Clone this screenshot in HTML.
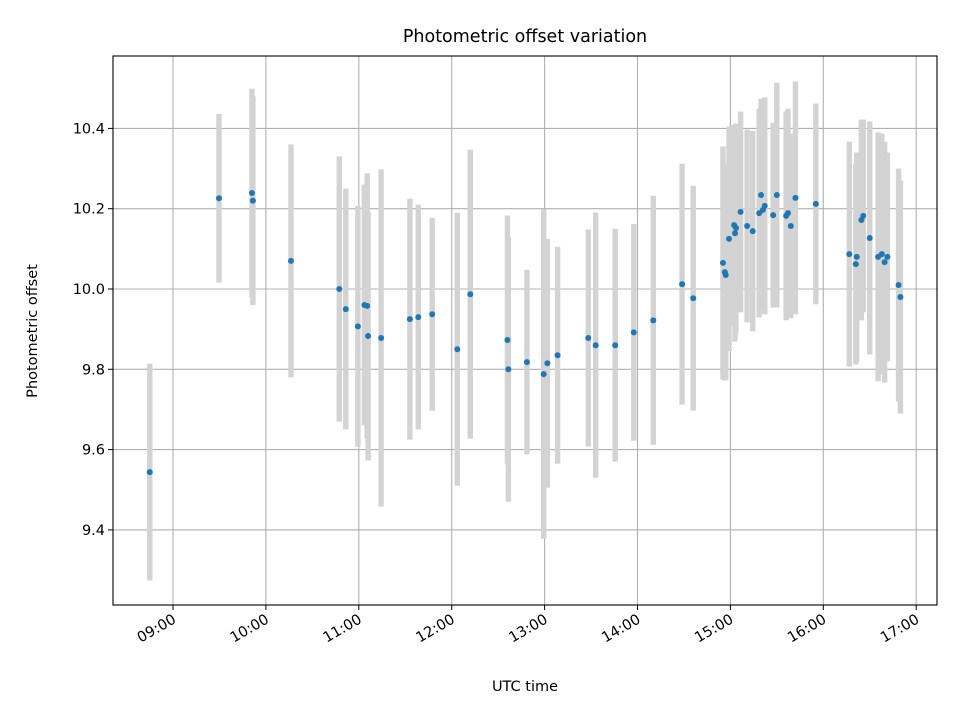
<!DOCTYPE html>
<html><head><meta charset="utf-8"><style>
body{margin:0;background:#fff;font-family:"Liberation Sans","DejaVu Sans",sans-serif}
</style></head><body>
<svg id="chart" width="960" height="720" xmlns="http://www.w3.org/2000/svg" font-family="DejaVu Sans, Liberation Sans, sans-serif"></svg>
<script>
const times=[8.75,9.495,9.85,9.86,10.27,10.79,10.86,10.99,11.06,11.09,11.10,11.24,11.55,11.64,11.79,12.06,12.20,12.60,12.61,12.81,12.99,13.03,13.14,13.47,13.55,13.76,13.96,14.17,14.48,14.60,
14.92,14.94,14.95,14.985,15.04,15.06,15.05,15.11,15.18,15.24,15.33,15.31,15.35,15.37,15.46,15.50,15.60,15.62,15.65,15.70,15.92,
16.28,16.36,16.35,16.41,16.43,16.50,16.59,16.63,16.66,16.69,16.81,16.83];
const offsets=[9.544,10.226,10.239,10.22,10.07,10.0,9.95,9.907,9.96,9.958,9.883,9.878,9.925,9.93,9.937,9.85,9.987,9.873,9.80,9.818,9.788,9.815,9.835,9.878,9.86,9.86,9.892,9.922,10.012,9.977,
10.065,10.042,10.035,10.125,10.159,10.152,10.139,10.192,10.157,10.144,10.234,10.189,10.197,10.207,10.184,10.234,10.182,10.189,10.157,10.227,10.212,
10.087,10.08,10.062,10.172,10.182,10.127,10.08,10.087,10.067,10.08,10.01,9.98];
const errors=[0.27,0.21,0.26,0.26,0.29,0.33,0.30,0.30,0.30,0.33,0.31,0.42,0.30,0.28,0.24,0.34,0.36,0.31,0.33,0.23,0.41,0.31,0.27,0.27,0.33,0.29,0.27,0.31,0.30,0.28,
0.29,0.27,0.26,0.28,0.25,0.26,0.27,0.25,0.24,0.25,0.24,0.26,0.25,0.27,0.23,0.28,0.26,0.26,0.23,0.29,0.25,
0.28,0.26,0.25,0.25,0.24,0.29,0.31,0.30,0.30,0.26,0.29,0.29];
const xTicks=[9,10,11,12,13,14,15,16,17];
const xTickLabels=["09:00","10:00","11:00","12:00","13:00","14:00","15:00","16:00","17:00"];
const yTicks=[9.4,9.6,9.8,10.0,10.2,10.4];
const yTickLabels=["9.4","9.6","9.8","10.0","10.2","10.4"];

const L=113,R=937,T=56,B=605;
const xs=t=>173+(t-9)*92.9;
const ys=v=>289-(v-10)*401.5;
const svg=document.getElementById('chart');
const NS='http://www.w3.org/2000/svg';
function mk(tag,attrs,parent){const e=document.createElementNS(NS,tag);for(const k in attrs)e.setAttribute(k,attrs[k]);(parent||svg).appendChild(e);return e;}

const grid=mk('g',{});


xTicks.forEach(t=>{const l=mk('line',{x1:xs(t),x2:xs(t),y1:T,y2:B,stroke:'#b0b0b0','stroke-width':1.1},grid);});
yTicks.forEach(v=>{const l=mk('line',{x1:L,x2:R,y1:ys(v),y2:ys(v),stroke:'#b0b0b0','stroke-width':1.1},grid);});

const eb=mk('g',{});


times.forEach((t,i)=>{const r=mk('rect',{x:xs(t)-2.7,y:ys(offsets[i]+errors[i]),width:5.4,height:ys(offsets[i]-errors[i])-ys(offsets[i]+errors[i]),fill:'#d3d3d3'},eb);});
const pts=mk('g',{});


times.forEach((t,i)=>{const c=mk('circle',{cx:xs(t),cy:ys(offsets[i]),r:3,fill:'#1f77b4'},pts);});

const frame=mk('rect',{x:L,y:T,width:R-L,height:B-T,fill:'none',stroke:'#000','stroke-width':1.1});



const xa=mk('g',{});


xTicks.forEach((t,i)=>{const x=xs(t);mk('line',{x1:x,x2:x,y1:B,y2:B+5,stroke:'#000'},xa);
const tx=mk('text',{x:x+4,y:B+17,'font-size':14.5,'text-anchor':'end',transform:`rotate(-30 ${x+4} ${B+17})`,fill:'#000'},xa);tx.textContent=xTickLabels[i];
});
const ya=mk('g',{});


yTicks.forEach((v,i)=>{const y=ys(v);mk('line',{x1:L-5,x2:L,y1:y,y2:y,stroke:'#000'},ya);
const tx=mk('text',{x:L-8,y:y+5,'font-size':14.5,'text-anchor':'end',fill:'#000'},ya);tx.textContent=yTickLabels[i];
});

const title=mk('text',{x:525,y:42,'font-size':17.5,'text-anchor':'middle',fill:'#000'});title.textContent='Photometric offset variation';

const xl=mk('text',{x:525,y:691,'font-size':14.5,'text-anchor':'middle',fill:'#000'});xl.textContent='UTC time';

const yl=mk('text',{x:37,y:331,'font-size':14.5,'text-anchor':'middle',transform:'rotate(-90 37 331)',fill:'#000'});yl.textContent='Photometric offset';

</script>
</body></html>
